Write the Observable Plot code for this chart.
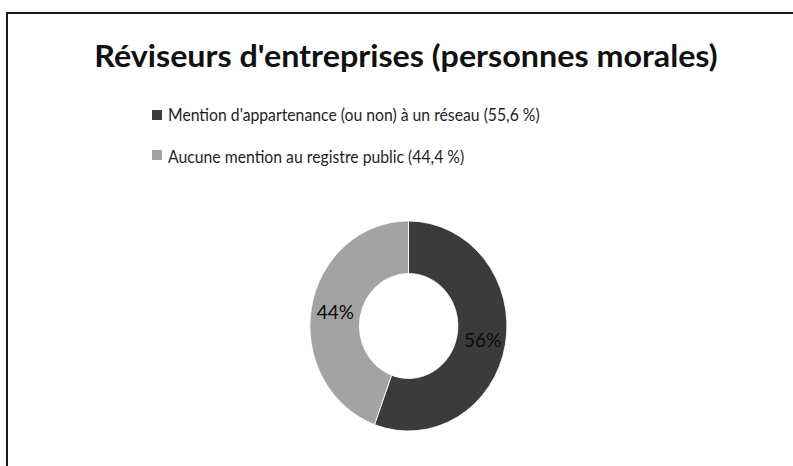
<!DOCTYPE html>
<html>
<head>
<meta charset="utf-8">
<script src="https://cdn.jsdelivr.net/npm/d3@7"></script>
<script src="https://cdn.jsdelivr.net/npm/@observablehq/plot@0.6"></script>
<style>
  html, body { margin: 0; padding: 0; background: #fff; }
  #page { position: relative; width: 793px; height: 466px; overflow: hidden; background: #fff; font-family: Lato, "Open Sans", sans-serif; }
  #frame { position: absolute; left: 6px; top: 12px; right: -10px; bottom: -10px; border-top: 2px solid #1a1a1a; border-left: 2px solid #1a1a1a; }
  #title { position: absolute; left: 0; width: 812px; top: 37px; text-align: center; font-weight: bold; font-size: 30px; line-height: normal; color: #111; transform: scaleX(1.075); transform-origin: 406px 0; white-space: nowrap; }
  .leg { position: absolute; left: 168px; font-size: 17.5px; line-height: normal; color: #1e1e1e; white-space: nowrap; transform: scaleX(0.9); transform-origin: 0 0; }
  .sw { position: absolute; left: 152px; width: 10px; height: 10px; }
  #chart { position: absolute; left: 0; top: 0; }
</style>
</head>
<body>
<div id="page">
  <div id="frame"></div>
  <div id="title">Réviseurs d'entreprises (personnes morales)</div>
  <div id="legend"></div>
  <div id="chart"></div>
</div>
<script>
const categories = ["Mention d'appartenance (ou non) à un réseau (55,6 %)", "Aucune mention au registre public (44,4 %)"];
const values = [55.6, 44.4];
const labels = ["56%", "44%"];
const colors = ["#3b3b3b", "#a3a3a3"];

const data = categories.map((c, i) => ({category: c, value: values[i], label: labels[i], color: colors[i]}));
const pie = d3.pie().sort(null).value(d => d.value)(data);
const innerR = 0.5, outerR = 1;
const labelArc = d3.arc().innerRadius(0.76).outerRadius(0.76);
const slices = pie.map(p => {
  const [lx, ly] = labelArc.centroid(p);
  return {...p.data, startAngle: p.startAngle, endAngle: p.endAngle, lx, ly: -ly};
});

// legend
const legend = document.getElementById("legend");
data.forEach((d, i) => {
  const sw = document.createElement("div");
  sw.className = "sw";
  sw.style.top = (110 + i * 40) + "px";
  sw.style.background = d.color;
  legend.appendChild(sw);
  const row = document.createElement("div");
  row.className = "leg";
  row.style.top = (104 + i * 42) + "px";
  row.textContent = d.category;
  legend.appendChild(row);
});

function donutMark(index, scales, values, dimensions, context) {
  const g = d3.create("svg:g");
  const cx = scales.x(0), cy = scales.y(0);
  const rx = (scales.x(1) - scales.x(-1)) / 2;
  const ry = (scales.y(-1) - scales.y(1)) / 2;
  const arc = d3.arc().innerRadius(innerR).outerRadius(outerR);
  g.attr("transform", `translate(${cx},${cy}) scale(${rx},${ry})`);
  g.selectAll("path").data(slices).join("path")
    .attr("d", d => arc(d))
    .attr("fill", d => d.color)
    .attr("stroke", "#fff")
    .attr("stroke-width", 0.008);
  return g.node();
}

const chart = Plot.plot({
  width: 793,
  height: 466,
  margin: 0,
  style: {background: "transparent", fontFamily: "Lato, 'Open Sans', sans-serif"},
  x: {domain: [-1, 1], range: [310, 507], axis: null},
  y: {domain: [-1, 1], range: [431, 221], axis: null},
  marks: [
    donutMark,
    Plot.text(slices, {x: "lx", y: "ly", text: "label", fontSize: 19, fill: "#0a0a0a"})
  ]
});
document.getElementById("chart").appendChild(chart);
</script>
</body>
</html>
